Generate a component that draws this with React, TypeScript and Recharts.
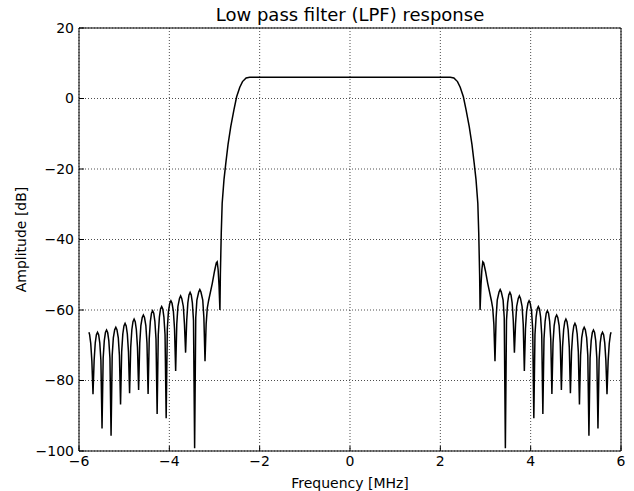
import React from 'react';
import { LineChart, Line, XAxis, YAxis, CartesianGrid, Label } from 'recharts';

// [frequency MHz, amplitude dB]
const lowerStopband: [number, number][] = [
  [-5.78, -66.3], [-5.765, -67.0], [-5.74, -69.5], [-5.715, -74.5], [-5.69, -83.9],
  [-5.665, -74.3], [-5.64, -69.3], [-5.615, -67.0], [-5.59, -66.3], [-5.565, -67.0], [-5.54, -69.3], [-5.515, -74.3], [-5.49, -93.6],
  [-5.465, -73.7], [-5.44, -68.7], [-5.415, -66.4], [-5.39, -65.7], [-5.365, -66.4], [-5.34, -68.7], [-5.315, -73.7], [-5.29, -95.7],
  [-5.265, -72.9], [-5.24, -67.9], [-5.21, -65.6], [-5.185, -64.9], [-5.16, -65.6], [-5.13, -67.9], [-5.105, -72.9], [-5.08, -86.8],
  [-5.055, -71.8], [-5.03, -66.8], [-5.005, -64.5], [-4.98, -63.8], [-4.955, -64.5], [-4.93, -66.8], [-4.905, -71.8], [-4.88, -83.6],
  [-4.855, -70.6], [-4.83, -65.6], [-4.805, -63.3], [-4.78, -62.6], [-4.755, -63.3], [-4.73, -65.6], [-4.705, -70.6], [-4.68, -82.7],
  [-4.655, -69.4], [-4.63, -64.4], [-4.6, -62.1], [-4.575, -61.4], [-4.55, -62.1], [-4.52, -64.4], [-4.495, -69.4], [-4.47, -83.8],
  [-4.445, -68.2], [-4.42, -63.2], [-4.395, -60.9], [-4.37, -60.2], [-4.345, -60.9], [-4.32, -63.2], [-4.295, -68.2], [-4.27, -89.5],
  [-4.245, -67.0], [-4.22, -62.0], [-4.195, -59.7], [-4.17, -59.0], [-4.145, -59.7], [-4.12, -62.0], [-4.095, -67.0], [-4.07, -90.7],
  [-4.045, -65.4], [-4.02, -60.4], [-3.99, -58.1], [-3.965, -57.4], [-3.94, -58.1], [-3.91, -60.4], [-3.885, -65.4], [-3.86, -77.3],
  [-3.835, -64.0], [-3.81, -59.0], [-3.775, -56.7], [-3.75, -56.0], [-3.725, -56.7], [-3.69, -59.0], [-3.665, -64.0], [-3.64, -72.1],
  [-3.615, -63.0], [-3.59, -58.0], [-3.565, -55.7], [-3.54, -55.0], [-3.515, -55.7], [-3.49, -58.0], [-3.465, -63.0], [-3.44, -99.2],
  [-3.415, -62.2], [-3.39, -57.2], [-3.35, -54.9], [-3.325, -54.2], [-3.3, -54.9], [-3.26, -57.2], [-3.235, -62.2], [-3.21, -74.5],
  [-3.185, -64.0], [-3.16, -59.5], [-3.13, -57.3], [-3.05, -52.5], [-3.0, -49.0], [-2.96, -46.6], [-2.94, -46.3], [-2.92, -48.5],
  [-2.9, -53.0], [-2.88, -60.0],
];

const passband: [number, number][] = [
  [-2.87, -50.0], [-2.85, -38.0], [-2.83, -29.7], [-2.79, -23.0], [-2.75, -18.4], [-2.7, -13.0], [-2.64, -8.0],
  [-2.57, -3.2], [-2.51, 0.5], [-2.44, 3.2], [-2.38, 4.8], [-2.3, 5.8], [-2.22, 6.0],
  [0, 6.0],
  [2.22, 6.0], [2.3, 5.8], [2.38, 4.8], [2.44, 3.2], [2.51, 0.5], [2.57, -3.2],
  [2.64, -8.0], [2.7, -13.0], [2.75, -18.4], [2.79, -23.0], [2.83, -29.7], [2.85, -38.0], [2.87, -50.0],
];

const upperStopband: [number, number][] = [
  [2.88, -60.0], [2.9, -53.0],
  [2.92, -48.5], [2.94, -46.3], [2.96, -46.6], [3.0, -49.0], [3.05, -52.5], [3.13, -57.3], [3.16, -59.5], [3.185, -64.0],
  [3.21, -74.5], [3.235, -62.2], [3.26, -57.2], [3.3, -54.9], [3.325, -54.2], [3.35, -54.9], [3.39, -57.2], [3.415, -62.2],
  [3.44, -99.2], [3.465, -63.0], [3.49, -58.0], [3.515, -55.7], [3.54, -55.0], [3.565, -55.7], [3.59, -58.0], [3.615, -63.0],
  [3.64, -72.1], [3.665, -64.0], [3.69, -59.0], [3.725, -56.7], [3.75, -56.0], [3.775, -56.7], [3.81, -59.0], [3.835, -64.0],
  [3.86, -77.3], [3.885, -65.4], [3.91, -60.4], [3.94, -58.1], [3.965, -57.4], [3.99, -58.1], [4.02, -60.4], [4.045, -65.4],
  [4.07, -90.7], [4.095, -67.0], [4.12, -62.0], [4.145, -59.7], [4.17, -59.0], [4.195, -59.7], [4.22, -62.0], [4.245, -67.0],
  [4.27, -89.5], [4.295, -68.2], [4.32, -63.2], [4.345, -60.9], [4.37, -60.2], [4.395, -60.9], [4.42, -63.2], [4.445, -68.2],
  [4.47, -83.8], [4.495, -69.4], [4.52, -64.4], [4.55, -62.1], [4.575, -61.4], [4.6, -62.1], [4.63, -64.4], [4.655, -69.4],
  [4.68, -82.7], [4.705, -70.6], [4.73, -65.6], [4.755, -63.3], [4.78, -62.6], [4.805, -63.3], [4.83, -65.6], [4.855, -70.6],
  [4.88, -83.6], [4.905, -71.8], [4.93, -66.8], [4.955, -64.5], [4.98, -63.8], [5.005, -64.5], [5.03, -66.8], [5.055, -71.8],
  [5.08, -86.8], [5.105, -72.9], [5.13, -67.9], [5.16, -65.6], [5.185, -64.9], [5.21, -65.6], [5.24, -67.9], [5.265, -72.9],
  [5.29, -95.7], [5.315, -73.7], [5.34, -68.7], [5.365, -66.4], [5.39, -65.7], [5.415, -66.4], [5.44, -68.7], [5.465, -73.7],
  [5.49, -93.6], [5.515, -74.3], [5.54, -69.3], [5.565, -67.0], [5.59, -66.3], [5.615, -67.0], [5.64, -69.3], [5.665, -74.3],
  [5.69, -83.9], [5.715, -74.5], [5.74, -69.5], [5.765, -67.0], [5.78, -66.3],
];

const xTicks = [-6, -4, -2, 0, 2, 4, 6];
const yTicks = [-100, -80, -60, -40, -20, 0, 20];

const data = [...lowerStopband, ...passband, ...upperStopband].map(([f, db]) => ({ f, db }));

const FONT = '"DejaVu Sans", sans-serif';
const fmt = (v: number) => (v < 0 ? '\u2212' + Math.abs(v) : String(v));

export default function App() {
  return (
    <div style={{ position: 'absolute', left: 0, top: 0, width: 634, height: 491, background: '#fff', fontFamily: FONT }}>
      <div style={{ position: 'absolute', left: 79, width: 542, top: 4, textAlign: 'center', fontSize: 18, color: '#000' }}>
        Low pass filter (LPF) response
      </div>
      <LineChart width={634} height={491} data={data} margin={{ top: 27, right: 12, bottom: 0, left: 0 }}>
        <CartesianGrid stroke="#000" strokeDasharray="1 2" strokeWidth={0.7} />
        <XAxis
          dataKey="f"
          type="number"
          domain={[-6, 6]}
          ticks={xTicks}
          tickFormatter={fmt}
          height={40}
          stroke="#000"
          tickSize={-5}
          tickMargin={10}
          tick={{ fill: '#000', fontSize: 14, fontFamily: FONT }}
          allowDataOverflow
        >
          <Label value="Frequency [MHz]" position="insideBottom" offset={3} style={{ fill: '#000', fontSize: 14, fontFamily: FONT }} />
        </XAxis>
        <XAxis xAxisId="top" orientation="top" type="number" domain={[-6, 6]} ticks={xTicks} height={1} stroke="#000" tickSize={-5} tick={false} />
        <YAxis
          type="number"
          domain={[-100, 20]}
          ticks={yTicks}
          tickFormatter={fmt}
          width={79}
          stroke="#000"
          tickSize={-5}
          tickMargin={10}
          tick={{ fill: '#000', fontSize: 14, fontFamily: FONT }}
          allowDataOverflow
        >
          <Label value="Amplitude [dB]" angle={-90} position="center" dx={-18} style={{ fill: '#000', fontSize: 14, fontFamily: FONT, textAnchor: 'middle' }} />
        </YAxis>
        <YAxis yAxisId="right" orientation="right" type="number" domain={[-100, 20]} ticks={yTicks} width={1} stroke="#000" tickSize={-5} tick={false} />
        <Line dataKey="db" type="linear" stroke="#000" strokeWidth={1.5} dot={false} isAnimationActive={false} />
      </LineChart>
    </div>
  );
}
